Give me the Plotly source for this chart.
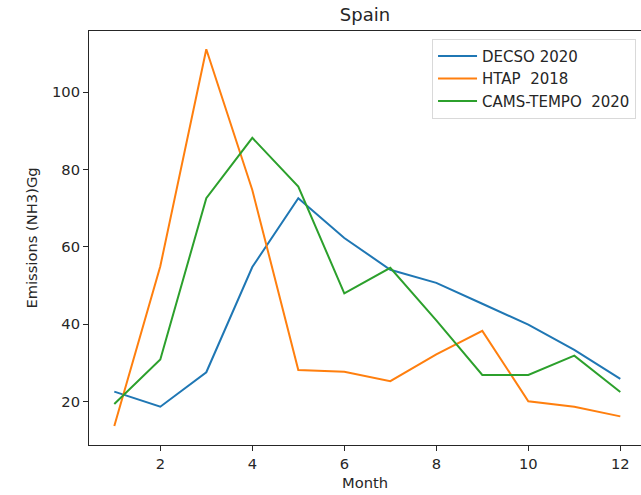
import plotly.graph_objects as go

months = [1, 2, 3, 4, 5, 6, 7, 8, 9, 10, 11, 12]
decso_2020 = [22.6, 18.7, 27.6, 54.8, 72.6, 62.3, 54.1, 50.7, 45.3, 39.9, 33.4, 25.9]
htap_2018 = [13.7, 55.0, 111.1, 74.7, 28.2, 27.7, 25.3, 32.2, 38.3, 20.1, 18.7, 16.2]
cams_tempo_2020 = [19.4, 30.9, 72.6, 88.2, 75.6, 48.0, 54.6, 41.0, 26.9, 26.9, 31.9, 22.5]

names = ["DECSO 2020", "HTAP  2018", "CAMS-TEMPO  2020"]
colors = ["#1f77b4", "#ff7f0e", "#2ca02c"]
series = [decso_2020, htap_2018, cams_tempo_2020]

fig = go.Figure()
for name, col, vals in zip(names, colors, series):
    fig.add_trace(go.Scatter(x=months, y=vals, mode="lines", name=name,
                             line=dict(color=col, width=2)))

font = "DejaVu Sans"
fs = 14.7
W, H = 641, 495
fig.update_layout(
    width=W, height=H,
    margin=dict(l=89, r=0, t=31, b=50, autoexpand=False),
    plot_bgcolor="white", paper_bgcolor="white",
    font=dict(family=font, size=fs, color="#262626"),
    title=dict(text="Spain", x=0.5, xref="paper", xanchor="center",
               y=1 - 15 / H, yref="container", yanchor="middle",
               font=dict(size=18, color="#262626")),
    showlegend=True,
    legend=dict(x=0.991, y=0.981, xanchor="right", yanchor="top",
                bordercolor="#d9d9d9", borderwidth=1, bgcolor="rgba(255,255,255,0.8)",
                font=dict(size=15), tracegroupgap=0, itemwidth=39),
)
fig.update_xaxes(range=[0.45, 12.45], tickvals=[2, 4, 6, 8, 10, 12],
                 automargin=False, tickfont=dict(size=fs),
                 showgrid=False, zeroline=False,
                 showline=True, linecolor="#262626", linewidth=1, mirror=True,
                 ticks="outside", ticklen=5, tickcolor="#262626",
                 title=dict(text="Month", standoff=7, font=dict(size=fs)))
fig.update_yaxes(range=[8.8, 115.8], tickvals=[20, 40, 60, 80, 100],
                 automargin=False, tickfont=dict(size=fs),
                 showgrid=False, zeroline=False,
                 showline=True, linecolor="#262626", linewidth=1, mirror=False,
                 ticks="outside", ticklen=5, tickcolor="#262626",
                 title=dict(text="Emissions (NH3)Gg", standoff=10, font=dict(size=fs)))

fig.write_html("out.html", config={"displayModeBar": False},
               post_script="document.body.style.margin='0';document.body.style.overflow='hidden';")
